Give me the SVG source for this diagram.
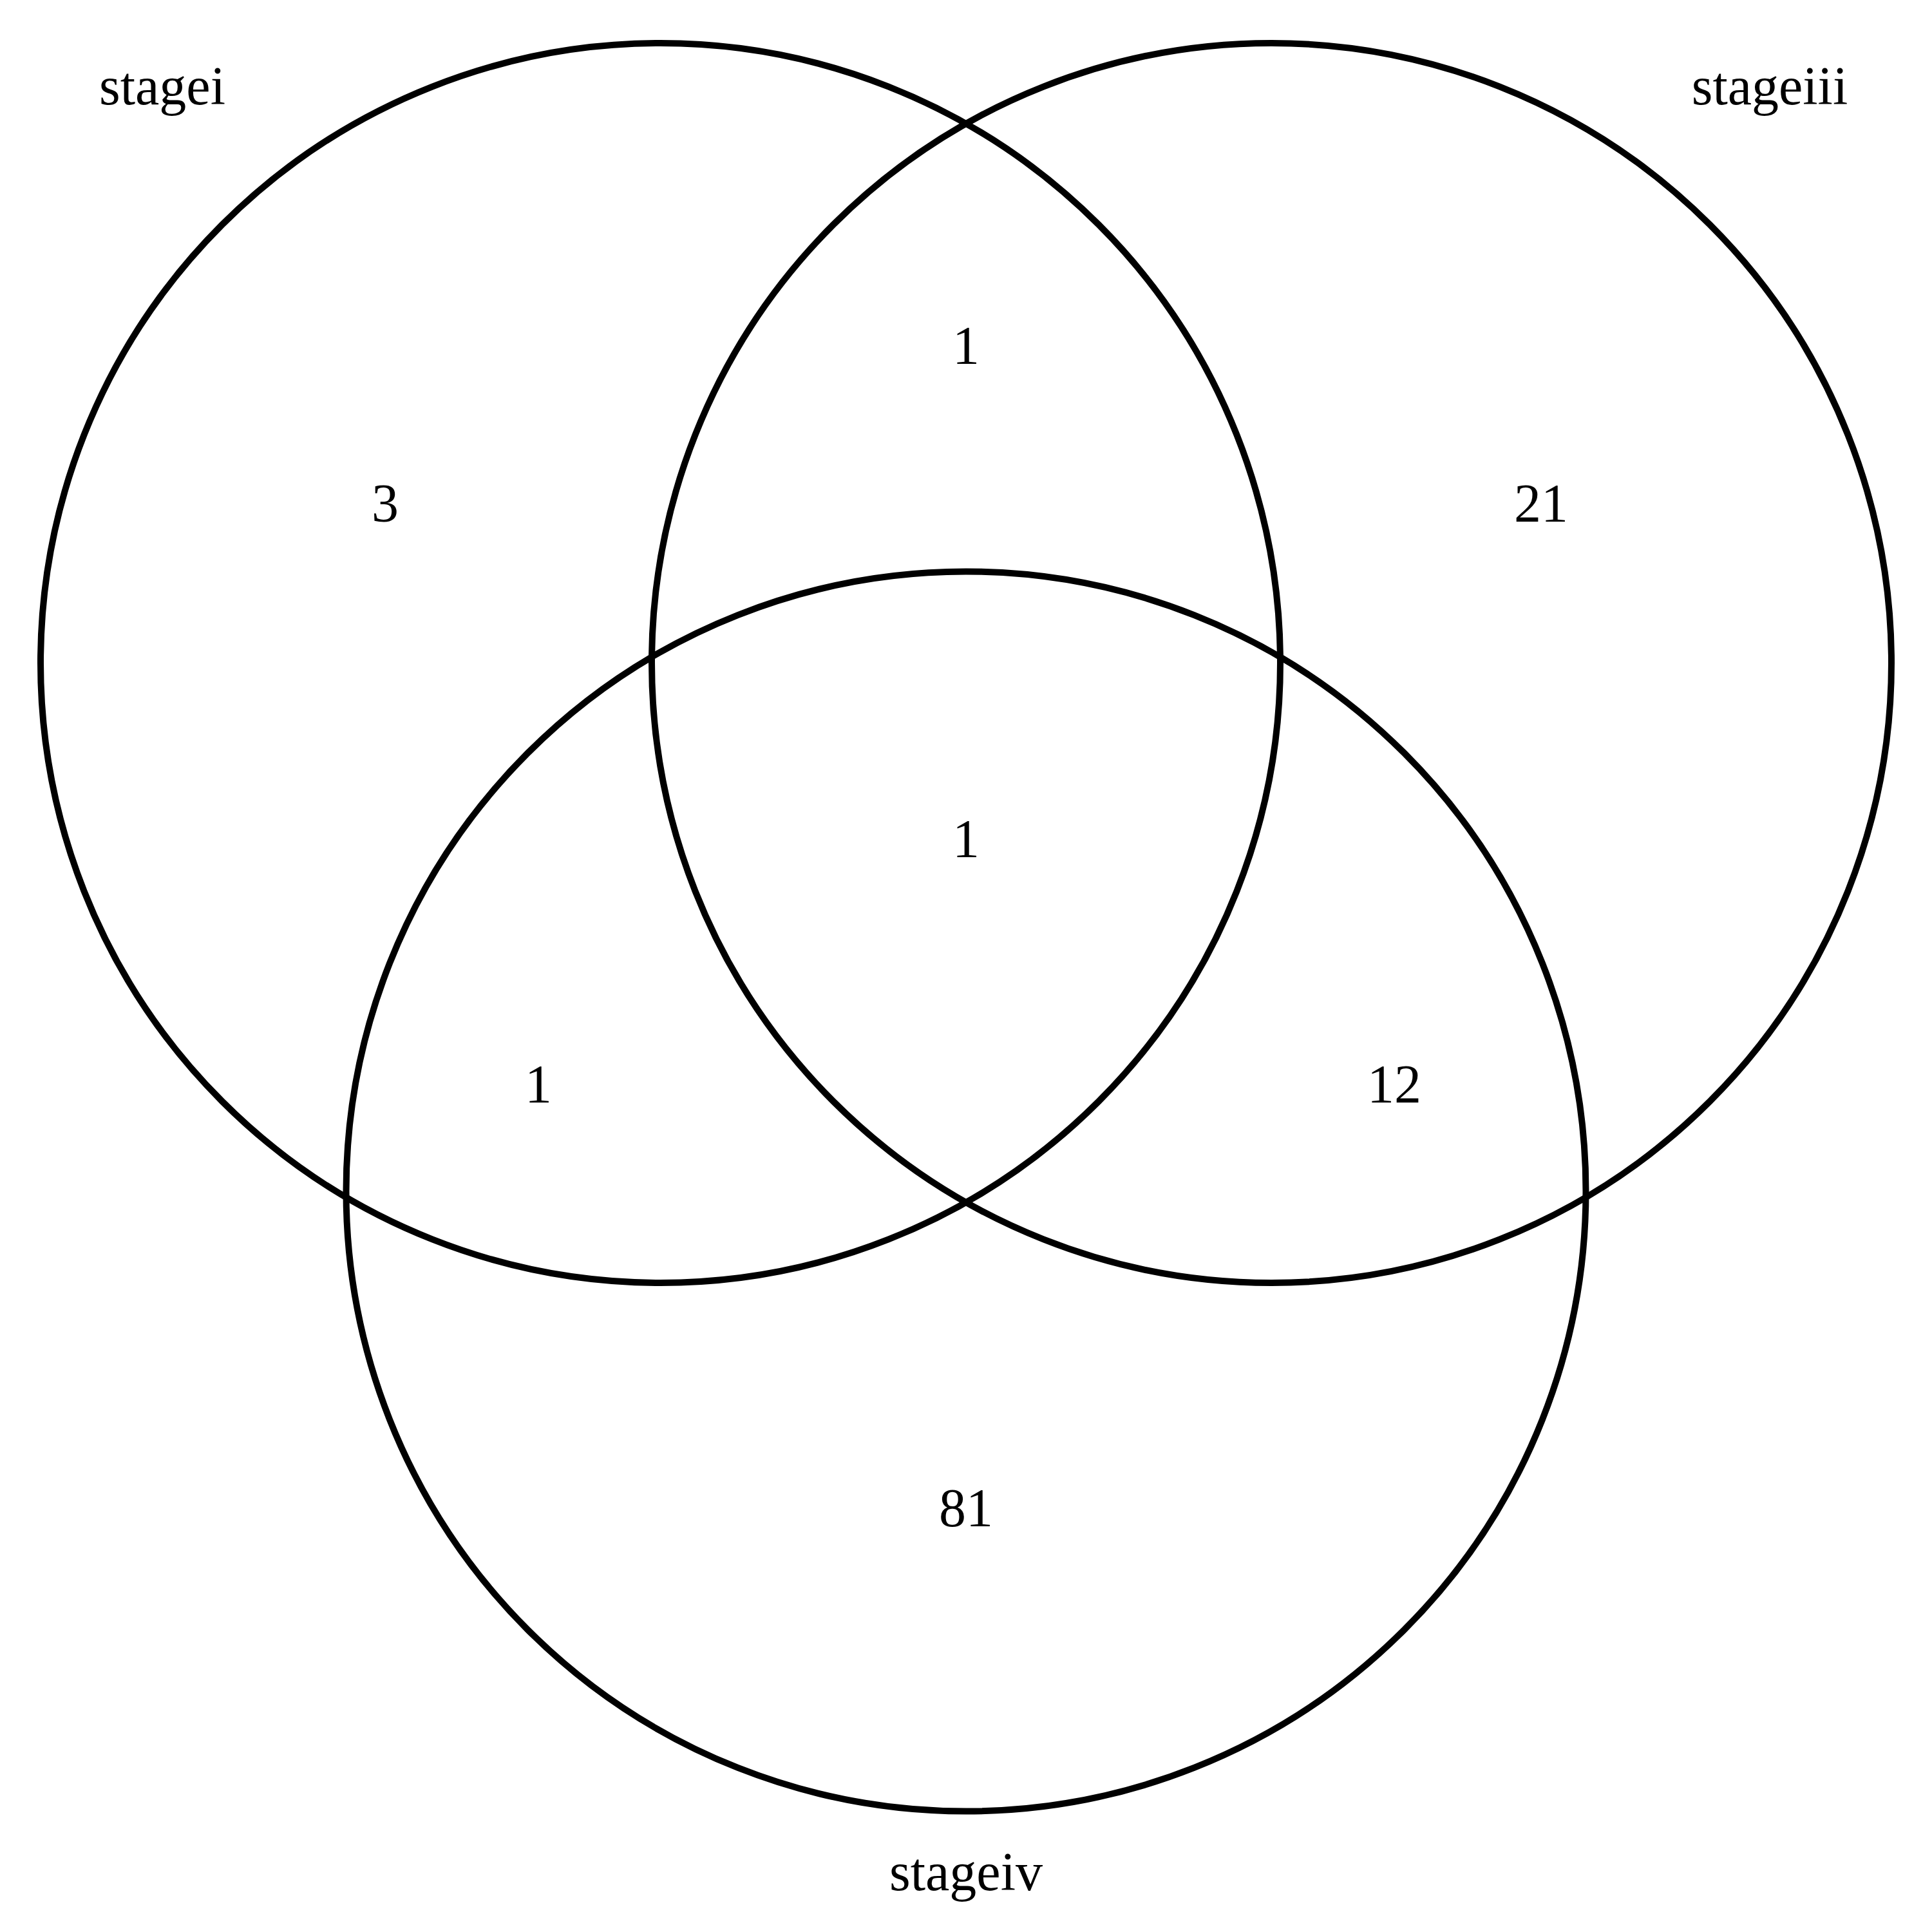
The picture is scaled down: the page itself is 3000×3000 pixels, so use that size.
<svg xmlns="http://www.w3.org/2000/svg" width="3000" height="3000" viewBox="0 0 3000 3000">
<style>
.set{fill:none;stroke:#000;stroke-width:10}
text{font-family:"Liberation Serif","Times New Roman",serif;font-size:84px;fill:#000;text-anchor:middle}
</style>
<rect width="3000" height="3000" fill="#fff"/>
<g id="sets">
<g id="stagei"><circle class="set" cx="1025.5" cy="1029.5" r="962.5"/><text x="252" y="162">stagei</text></g>
<g id="stageiii"><circle class="set" cx="1974.5" cy="1029.5" r="962.5"/><text x="2748" y="162">stageiii</text></g>
<g id="stageiv"><circle class="set" cx="1500" cy="1850" r="962.5"/><text x="1500" y="2935">stageiv</text></g>
</g>
<g id="counts">
<text x="598" y="810">3</text>
<text x="1500" y="565">1</text>
<text x="2393" y="810">21</text>
<text x="1500" y="1331">1</text>
<text x="836" y="1712">1</text>
<text x="2165" y="1712">12</text>
<text x="1500" y="2370">81</text>
</g>
<g id="connectors"></g>
</svg>
